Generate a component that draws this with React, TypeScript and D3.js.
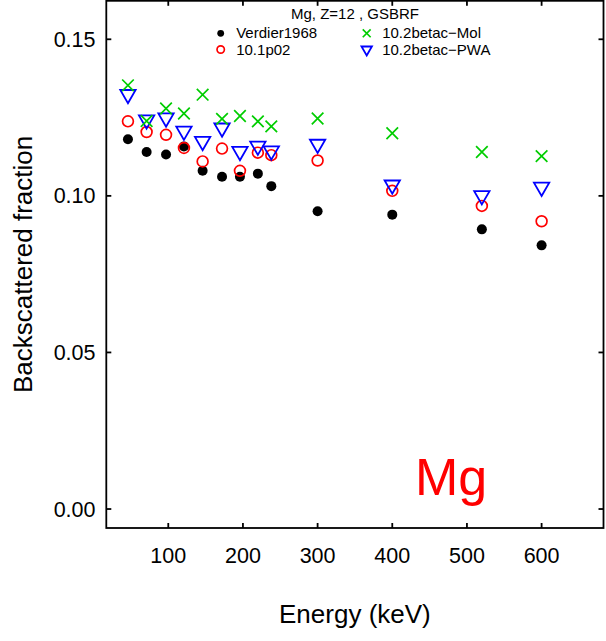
import React from "react";
import * as d3 from "d3";

const energies = [46, 71, 97, 121, 146, 172, 196, 220, 238, 300, 400, 520, 600];
const verdier1968 = [0.1181, 0.114, 0.1132, 0.1158, 0.108, 0.1061, 0.1061, 0.1071, 0.1031, 0.0951, 0.094, 0.0893, 0.0842];
const egs101p02 = [0.1238, 0.1204, 0.1195, 0.1153, 0.111, 0.1151, 0.108, 0.1138, 0.113, 0.1113, 0.1016, 0.0968, 0.0919];
const betacMol = [0.1353, 0.1239, 0.1279, 0.1263, 0.1323, 0.1246, 0.1255, 0.1238, 0.1222, 0.1247, 0.12, 0.114, 0.1127];
const betacPWA = [0.1324, 0.1243, 0.1249, 0.1207, 0.1174, 0.1217, 0.1142, 0.1159, 0.1144, 0.1165, 0.1035, 0.1001, 0.1028];

const xTicks = [100, 200, 300, 400, 500, 600];
const yTicks = [0.0, 0.05, 0.1, 0.15];

const W = 606;
const H = 641;
const margin = { left: 106.3, right: 2.5, top: 0.8, bottom: 113 };
const FONT = "'Liberation Sans', Arial, Helvetica, sans-serif";

const GREEN = "#00cd00";
const RED = "#ff0000";
const BLUE = "#0000ff";

function Marker({ kind, x, y, s = 1 }: { kind: string; x: number; y: number; s?: number }) {
  if (kind === "dot") return <circle cx={x} cy={y} r={5 * s} fill="#000" />;
  if (kind === "circle")
    return <circle cx={x} cy={y} r={5.4 * s} fill="none" stroke={RED} strokeWidth={1.7} />;
  if (kind === "cross") {
    const h = 5.8 * s;
    return (
      <path
        d={`M${x - h},${y - h}L${x + h},${y + h}M${x - h},${y + h}L${x + h},${y - h}`}
        stroke={GREEN}
        strokeWidth={1.7}
        fill="none"
      />
    );
  }
  // down triangle, R pch=6 style (circumcenter at point)
  const t0 = 8.85 * s;
  const t1 = (t0 * Math.sqrt(3)) / 2;
  const t2 = t0 / 2;
  return (
    <path
      d={`M${x},${y + t0}L${x + t1},${y - t2}L${x - t1},${y - t2}Z`}
      fill="none"
      stroke={BLUE}
      strokeWidth={1.8}
      strokeLinejoin="miter"
    />
  );
}

export default function App() {
  const x0 = margin.left;
  const x1 = W - margin.right;
  const y0 = margin.top;
  const y1 = H - margin.bottom;

  const x = d3.scaleLinear().domain([17.0, 682.9]).range([x0, x1]);
  const y = d3.scaleLinear().domain([-0.00606, 0.16229]).range([y1, y0]);

  const series = [
    { kind: "dot", values: verdier1968 },
    { kind: "circle", values: egs101p02 },
    { kind: "triangle", values: betacPWA },
    { kind: "cross", values: betacMol },
  ];

  const legend = [
    { kind: "dot", label: "Verdier1968", col: 0, row: 0 },
    { kind: "circle", label: "10.1p02", col: 0, row: 1 },
    { kind: "cross", label: "10.2betac\u2212Mol", col: 1, row: 0 },
    { kind: "triangle", label: "10.2betac\u2212PWA", col: 1, row: 1 },
  ];
  const legX = [220.7, 366.7];
  const legY = [33.3, 49.5];
  const tick = 5;

  return (
    <svg
      width={W}
      height={H}
      style={{ position: "absolute", left: 0, top: 0, background: "#fff" }}
      fontFamily={FONT}
    >
      <rect x={0} y={0} width={W} height={H} fill="#fff" />
      {/* data */}
      {series.map((s) =>
        s.values.map((v, i) => <Marker key={s.kind + i} kind={s.kind} x={x(energies[i])} y={y(v)} />)
      )}

      {/* frame */}
      <rect x={x0} y={y0} width={x1 - x0} height={y1 - y0} fill="none" stroke="#000" strokeWidth={1.8} />

      {/* x ticks */}
      {xTicks.map((t) => (
        <g key={"xt" + t}>
          <line x1={x(t)} x2={x(t)} y1={y1} y2={y1 - tick} stroke="#000" strokeWidth={1.8} />
          <line x1={x(t)} x2={x(t)} y1={y0} y2={y0 + tick} stroke="#000" strokeWidth={1.8} />
          <text x={x(t)} y={y1 + 35} textAnchor="middle" fontSize={21.5} fill="#000">
            {t}
          </text>
        </g>
      ))}

      {/* y ticks */}
      {yTicks.map((t) => (
        <g key={"yt" + t}>
          <line x1={x0} x2={x0 + tick} y1={y(t)} y2={y(t)} stroke="#000" strokeWidth={1.8} />
          <line x1={x1} x2={x1 - tick} y1={y(t)} y2={y(t)} stroke="#000" strokeWidth={1.8} />
          <text x={95.5} y={y(t) + 7.6} textAnchor="end" fontSize={21.5} fill="#000">
            {d3.format(".2f")(t)}
          </text>
        </g>
      ))}

      {/* axis titles */}
      <text x={(x0 + x1) / 2} y={623.3} textAnchor="middle" fontSize={26} fill="#000">
        Energy (keV)
      </text>
      <text
        transform={`translate(31.5,${(y0 + y1) / 2}) rotate(-90)`}
        textAnchor="middle"
        fontSize={26}
        fill="#000"
      >
        Backscattered fraction
      </text>

      {/* legend */}
      <text x={355} y={19.3} textAnchor="middle" fontSize={15} fill="#000">
        Mg, Z=12 , GSBRF
      </text>
      {legend.map((l) => (
        <g key={l.label}>
          <Marker kind={l.kind} x={legX[l.col]} y={legY[l.row]} s={0.68} />
          <text x={legX[l.col] + 15.5} y={legY[l.row] + 5} fontSize={15} fill="#000">
            {l.label}
          </text>
        </g>
      ))}

      {/* big label */}
      <text x={415} y={495} fontSize={52} fill={RED}>
        Mg
      </text>
    </svg>
  );
}
